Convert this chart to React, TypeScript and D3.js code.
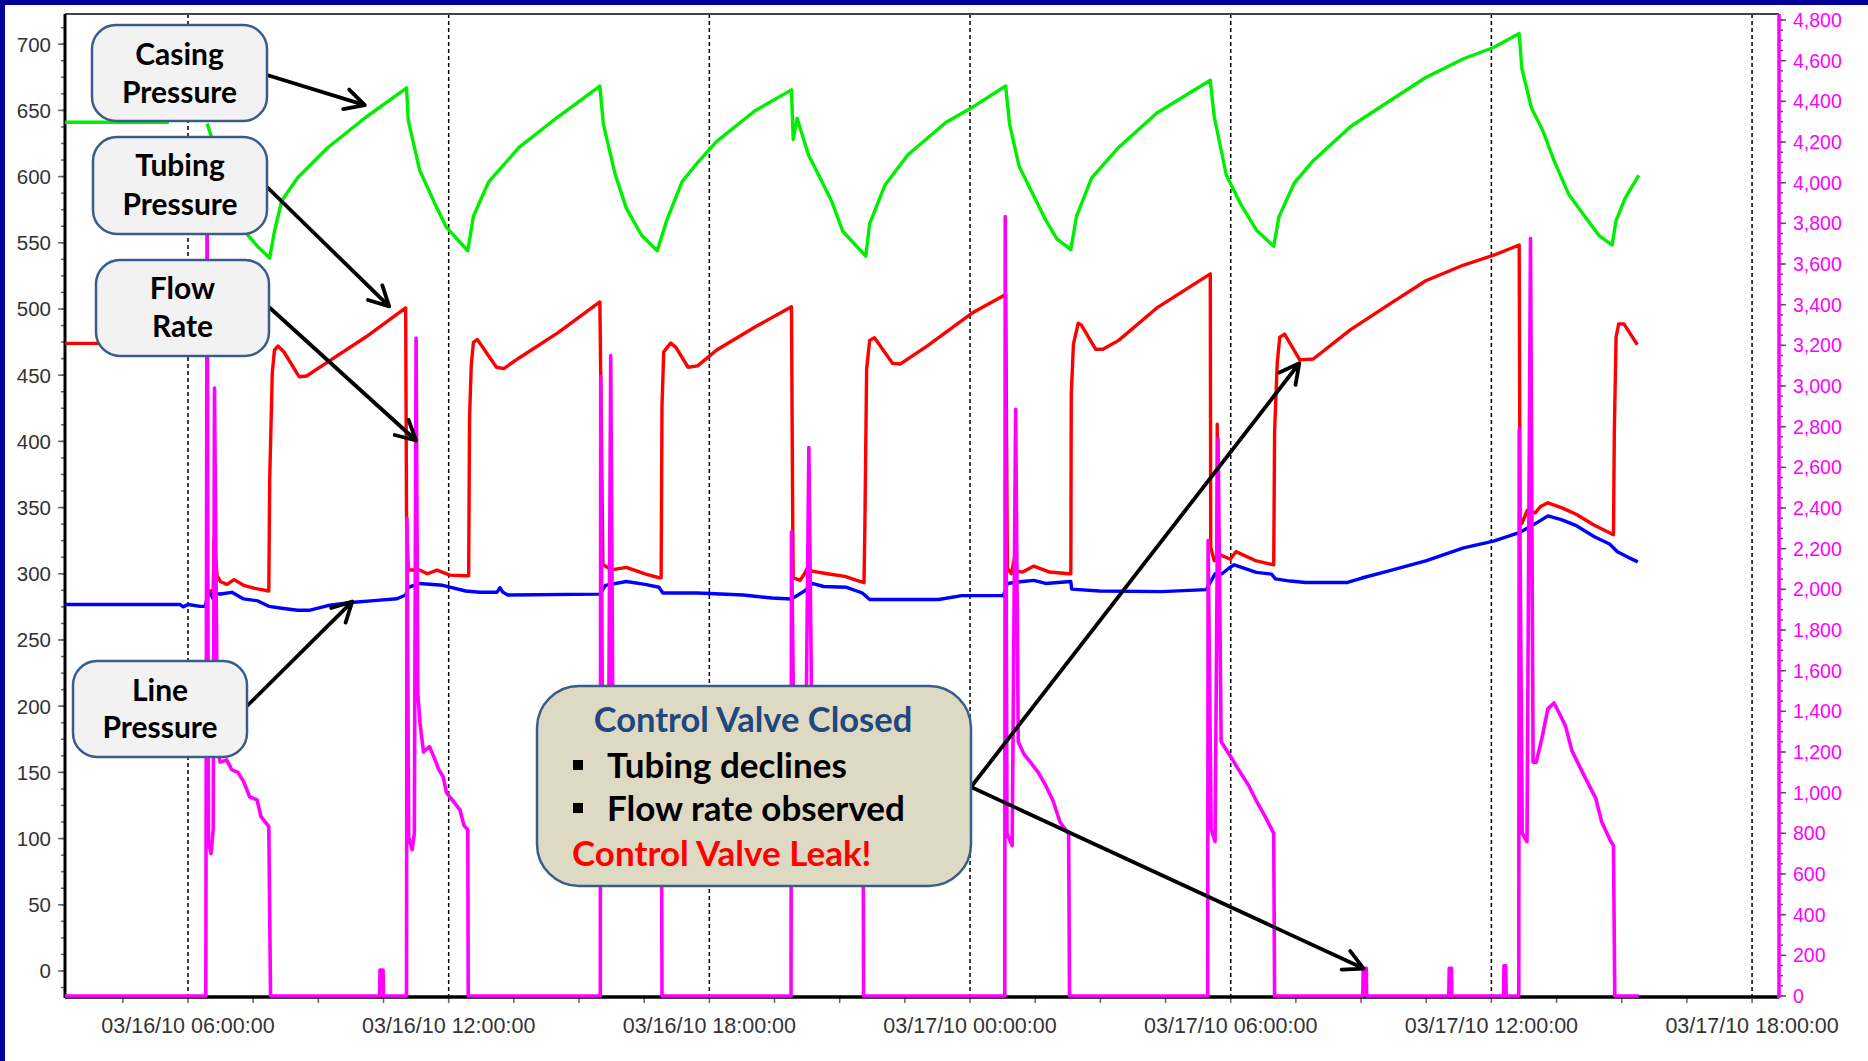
import * as d3 from 'd3';

// time is hours after 03/16/10 00:00:00
const casingPressure: [number, number | null][] = [
  [3.17, 641], [5.56, 641], [5.6, null], [6.44, 640], [6.53, 631], [6.97, 590], [7.37, 556], [7.61, 547],
  [7.88, 538.5], [7.99, 558.7], [8.16, 582], [8.52, 599], [9.22, 622], [10.1, 645], [10.98, 665.6],
  [11.03, 667], [11.07, 642.4], [11.33, 605], [11.69, 579], [11.95, 561.6], [12.44, 544], [12.57, 570],
  [12.92, 596], [13.62, 622], [14.51, 645], [15.48, 668.4], [15.56, 639.6], [15.83, 602], [16.09, 576],
  [16.44, 555.7], [16.8, 544], [17.02, 567], [17.37, 596], [17.73, 610.6], [18.17, 626.6], [19.05, 649.7],
  [19.89, 665.5], [19.93, 628], [20.02, 644], [20.28, 616.5], [20.55, 599], [20.81, 581.8], [21.07, 558.7],
  [21.6, 539.9], [21.69, 564.5], [22.04, 593.4], [22.57, 616.5], [23.45, 641], [24.07, 652.6], [24.82, 668.4],
  [24.91, 639.7], [25.13, 607.8], [25.39, 590.4], [25.74, 567.3], [26.0, 552.9], [26.32, 544.8], [26.45, 570],
  [26.8, 599], [27.42, 622], [28.3, 648], [29.53, 672.8], [29.62, 645.4], [29.9, 601], [30.25, 578],
  [30.59, 559.7], [30.99, 547.4], [31.11, 569.6], [31.46, 595], [31.9, 612], [32.76, 637.8], [33.62, 656.3],
  [34.49, 674.8], [35.36, 689], [36.05, 697.5], [36.64, 708], [36.7, 682], [36.92, 652], [37.18, 635],
  [37.44, 612.2], [37.78, 586.6], [38.22, 566.8], [38.48, 555.4], [38.78, 548.3], [38.87, 566.8],
  [39.08, 583.8], [39.39, 601],
];

const tubingPressure: [number, number | null][] = [
  [3.17, 474], [5.59, 474], [5.6, null], [6.43, 287], [6.58, 287], [6.6, 326], [6.67, 298.5], [6.75, 294],
  [6.9, 292], [7.06, 295.6], [7.28, 291.3], [7.54, 289], [7.86, 287], [7.88, 370.8], [7.94, 451.7],
  [7.99, 469], [8.07, 472], [8.21, 467.5], [8.56, 448.8], [8.73, 449.4], [9.22, 460], [10.1, 479],
  [11.01, 500.8], [11.03, 341.8], [11.07, 302.8], [11.33, 302.8], [11.51, 300], [11.73, 302.8], [12.03, 299],
  [12.39, 298.5], [12.46, 298.5], [12.48, 417], [12.52, 457.5], [12.57, 474.8], [12.66, 477], [13.1, 456],
  [13.27, 455], [13.62, 463], [14.51, 482], [15.48, 505.3], [15.5, 448.8], [15.55, 307], [15.74, 303],
  [16.09, 304.8], [16.52, 300], [16.84, 297], [16.89, 297], [16.91, 427], [16.95, 467.6], [17.11, 474.3],
  [17.23, 471], [17.51, 456], [17.73, 457], [18.17, 469], [19.05, 486.4], [19.89, 501.7], [19.92, 333],
  [19.93, 297], [20.09, 295], [20.19, 300], [20.28, 306], [20.36, 302], [20.72, 300], [21.12, 298],
  [21.34, 295.6], [21.56, 293.3], [21.58, 337.6], [21.62, 454.7], [21.69, 476.3], [21.8, 478.3],
  [22.22, 458.9], [22.39, 458.4], [23.01, 472], [24.07, 497.4], [24.82, 511], [24.86, 304.3], [24.95, 300],
  [25.04, 314.4], [25.08, 302], [25.21, 301.3], [25.47, 305.8], [25.83, 301.3], [26.27, 300], [26.32, 300],
  [26.33, 435.8], [26.38, 473.4], [26.49, 489.3], [26.56, 488], [26.89, 469.6], [27.06, 469.6],
  [27.42, 476.3], [28.3, 500.8], [29.53, 526.5], [29.54, 320], [29.62, 310], [29.68, 310], [29.69, 413],
  [29.71, 315], [29.99, 311], [30.12, 316.7], [30.59, 309.7], [30.99, 306.8], [31.01, 407.6], [31.07, 458.8],
  [31.13, 478.7], [31.24, 481], [31.59, 461.6], [31.9, 462.2], [32.76, 484.4], [33.62, 502.9], [34.49, 521.3],
  [35.36, 533.2], [36.05, 540.6], [36.64, 548.3], [36.66, 339.4], [36.7, 338], [36.83, 348], [37.01, 346],
  [37.13, 350.8], [37.3, 353.6], [37.61, 350], [37.94, 345.2], [38.37, 336.6], [38.81, 329.5], [38.83, 407.6],
  [38.87, 478.7], [38.93, 488.7], [39.05, 488.7], [39.36, 473],
];

const linePressure: [number, number][] = [
  [3.17, 276.8], [5.82, 276.8], [5.89, 275], [6.0, 276.8], [6.28, 275.4], [6.4, 275.4], [6.44, 282],
  [6.49, 287], [6.58, 281], [6.62, 285], [6.75, 284.7], [7.01, 286], [7.28, 281], [7.61, 279.5],
  [7.86, 275.4], [8.16, 274], [8.52, 272.5], [8.81, 272.5], [9.22, 276], [9.75, 278.3], [10.28, 279.7],
  [10.81, 281.1], [11.01, 284], [11.07, 289.8], [11.33, 292.7], [11.86, 291.3], [12.39, 287], [12.72, 286],
  [13.11, 286], [13.18, 289.5], [13.25, 286], [13.36, 284], [15.48, 284.6], [15.61, 291.3], [16.09, 294.2],
  [16.52, 292], [16.84, 289.8], [16.93, 285.5], [17.73, 285.5], [18.78, 284], [19.44, 281.7], [19.89, 281],
  [20.19, 287], [20.37, 292.7], [20.63, 290.4], [21.16, 289.8], [21.52, 285.5], [21.69, 280.6],
  [23.28, 280.6], [23.81, 283.5], [24.77, 283.5], [24.86, 292.7], [25.21, 294.2], [25.47, 295],
  [25.74, 292.7], [26.32, 294.2], [26.34, 288.4], [26.98, 287], [28.4, 286.5], [29.44, 288], [29.64, 300],
  [29.8, 300], [29.95, 304], [30.08, 306.8], [30.59, 301.1], [30.94, 299.7], [31.03, 296.2], [31.37, 294.5],
  [31.72, 293.4], [32.67, 293.4], [33.02, 296.8], [33.62, 302], [34.49, 309.7], [35.36, 319.6],
  [36.05, 324.7], [36.64, 331], [37.09, 339.4], [37.3, 343.7], [37.61, 340.9], [37.94, 336.6], [38.37, 328],
  [38.72, 322.5], [38.9, 316.7], [39.15, 312.4], [39.37, 309],
];

const flowRate: [number, number][] = [
  [3.17, 0], [6.41, 0], [6.44, 4000], [6.47, 760], [6.53, 700], [6.58, 820], [6.61, 2990], [6.66, 1700],
  [6.69, 1200], [6.74, 1150], [6.89, 1161], [7.01, 1112], [7.15, 1100], [7.28, 1054], [7.42, 980],
  [7.59, 964], [7.68, 882], [7.8, 850], [7.86, 833], [7.9, 0], [10.41, 0], [10.42, 128], [10.49, 128],
  [10.5, 0], [11.03, 0], [11.04, 2350], [11.08, 780], [11.16, 720], [11.21, 800], [11.25, 3236],
  [11.29, 1490], [11.34, 1343], [11.42, 1200], [11.56, 1226], [11.69, 1160], [11.78, 1110], [11.87, 1080],
  [11.95, 1000], [12.08, 965], [12.26, 915], [12.35, 840], [12.44, 817], [12.45, 0], [15.49, 0],
  [15.5, 3046], [15.55, 800], [15.67, 760], [15.73, 3150], [15.78, 1300], [15.95, 1220], [16.18, 1150],
  [16.41, 1050], [16.64, 960], [16.82, 850], [16.9, 820], [16.91, 0], [19.88, 0], [19.89, 2283],
  [19.97, 800], [20.2, 760], [20.29, 2697], [20.36, 1300], [20.55, 1220], [20.89, 1120], [21.12, 1000],
  [21.35, 900], [21.54, 830], [21.55, 0], [24.8, 0], [24.81, 3833], [24.85, 800], [24.97, 740],
  [25.05, 2886], [25.11, 1250], [25.24, 1190], [25.39, 1150], [25.57, 1100], [25.75, 1032], [25.91, 960],
  [26.07, 856], [26.27, 797], [26.29, 0], [29.47, 0], [29.48, 2240], [29.55, 820], [29.64, 760],
  [29.71, 2740], [29.78, 1250], [29.99, 1180], [30.22, 1100], [30.4, 1040], [30.59, 960], [30.8, 880],
  [30.99, 800], [31.01, 0], [33.04, 0], [33.05, 136], [33.12, 136], [33.13, 0], [35.02, 0], [35.03, 136],
  [35.08, 136], [35.09, 0], [36.28, 0], [36.29, 149], [36.33, 149], [36.34, 0], [36.63, 0], [36.64, 2787],
  [36.71, 800], [36.82, 760], [36.9, 3725], [36.96, 1150], [37.03, 1149], [37.16, 1265], [37.3, 1412],
  [37.44, 1441], [37.58, 1383], [37.71, 1325], [37.85, 1208], [38.12, 1090], [38.4, 973], [38.54, 856],
  [38.73, 768], [38.81, 738], [38.84, 0], [39.39, 0],
];

const leftTicks = [0, 50, 100, 150, 200, 250, 300, 350, 400, 450, 500, 550, 600, 650, 700];
const rightTicks = [0, 200, 400, 600, 800, 1000, 1200, 1400, 1600, 1800, 2000, 2200, 2400, 2600, 2800,
  3000, 3200, 3400, 3600, 3800, 4000, 4200, 4400, 4600, 4800];
const timeTicks = [6, 12, 18, 24, 30, 36, 42];

const W = 1868;
const H = 1061;
const L = 65, R = 1779, T = 14, B = 996;

const base = Date.UTC(2010, 2, 16);
const toDate = (h: number) => new Date(base + h * 3600000);

const x = d3.scaleUtc().domain([toDate(3.169), toDate(42.62)]).range([L, R]);
const yL = d3.scaleLinear().domain([-18.9, 722.8]).range([B, T]);
const yR = d3.scaleLinear().domain([0, 4829.6]).range([B, T]);
const fmtTime = d3.utcFormat('%m/%d/%y %H:%M:%S');
const fmtRight = d3.format(',');

const leftLine = d3.line<[number, number | null]>()
  .defined(d => d[1] != null)
  .x(d => x(toDate(d[0])))
  .y(d => yL(d[1] as number));
const rightLine = d3.line<[number, number]>()
  .x(d => x(toDate(d[0])))
  .y(d => yR(d[1]));

function arrowPath(x1: number, y1: number, x2: number, y2: number) {
  const a = Math.atan2(y2 - y1, x2 - x1);
  const len = 22, spread = Math.PI / 6.5;
  const b1 = [x2 - len * Math.cos(a - spread), y2 - len * Math.sin(a - spread)];
  const b2 = [x2 - len * Math.cos(a + spread), y2 - len * Math.sin(a + spread)];
  return `M${x1},${y1}L${x2},${y2}M${b1[0]},${b1[1]}L${x2},${y2}L${b2[0]},${b2[1]}`;
}

// callouts: box in page pixels, arrow tip in data space
const labelBoxes = [
  { lines: ['Casing', 'Pressure'], x: 92, y: 25, w: 175, h: 96, base: [65, 103], from: [267, 75], tip: [10.07, 654, 'L'] },
  { lines: ['Tubing', 'Pressure'], x: 93, y: 137, w: 174, h: 97, base: [176, 215], from: [267, 187], tip: [10.63, 502, 'L'] },
  { lines: ['Flow', 'Rate'], x: 96, y: 260, w: 173, h: 96, base: [299, 337], from: [270, 308], tip: [11.25, 2732, 'R'] },
  { lines: ['Line', 'Pressure'], x: 73, y: 661, w: 174, h: 96, base: [701, 738], from: [247, 706], tip: [9.78, 279, 'L'] },
] as const;

const controlTips: [number, number, 'L' | 'R'][] = [[31.58, 459, 'L'], [33.06, 135, 'R']];

const tipXY = (t: readonly [number, number, string]) =>
  [x(toDate(t[0])), t[2] === 'L' ? yL(t[1]) : yR(t[1])];

export default function App() {
  const minorTime = d3.range(4.5, 42.6, 1.5);
  const minorLeft = d3.range(-12.5, 722, 12.5);
  const minorRight = d3.range(0, 4829, 50);
  const boxFont = 'Lato, "Open Sans", sans-serif';
  const axisFont = '"Liberation Sans", Arial, sans-serif';

  return (
    <svg width={W} height={H} style={{ position: 'absolute', left: 0, top: 0, display: 'block', background: '#fff' }}>
      <rect x={0} y={0} width={W} height={H} fill="#fff" />
      <rect x={0} y={0} width={5} height={H} fill="#000099" />
      <rect x={0} y={0} width={W} height={5} fill="#000099" />

      {/* dashed time grid */}
      {timeTicks.map(h => (
        <line key={'g' + h} x1={x(toDate(h))} x2={x(toDate(h))} y1={T} y2={B}
          stroke="#000" strokeWidth={1.5} strokeDasharray="4,3" />
      ))}

      {/* x axis ticks + labels */}
      {minorTime.map(h => (
        <line key={'mt' + h} x1={x(toDate(h))} x2={x(toDate(h))} y1={B} y2={B + 7} stroke="#666" strokeWidth={1.5} />
      ))}
      {timeTicks.map(h => (
        <text key={'tl' + h} x={x(toDate(h))} y={1033} textAnchor="middle" fontFamily={axisFont}
          fontSize={21.5} fill="#333">{fmtTime(toDate(h))}</text>
      ))}

      {/* left axis */}
      {minorLeft.map(v => (
        <line key={'ml' + v} x1={L - 4} x2={L} y1={yL(v)} y2={yL(v)} stroke="#666" strokeWidth={1.5} />
      ))}
      {leftTicks.map(v => (
        <g key={'lt' + v}>
          <line x1={L - 7} x2={L} y1={yL(v)} y2={yL(v)} stroke="#666" strokeWidth={1.5} />
          <text x={51} y={yL(v) + 7.5} textAnchor="end" fontFamily={axisFont} fontSize={20.5} fill="#333">{v}</text>
        </g>
      ))}

      {/* right axis */}
      {minorRight.map(v => (
        <line key={'mr' + v} x1={R} x2={R + 4} y1={yR(v)} y2={yR(v)} stroke="#555" strokeWidth={1.5} />
      ))}
      {rightTicks.map(v => (
        <g key={'rt' + v}>
          <line x1={R} x2={R + 7} y1={yR(v)} y2={yR(v)} stroke="#555" strokeWidth={1.5} />
          <text x={1793} y={yR(v) + 7} fontFamily={axisFont} fontSize={19.5} fill="#ff00ff">{fmtRight(v)}</text>
        </g>
      ))}

      {/* frame */}
      <line x1={L} x2={R} y1={T} y2={T} stroke="#444" strokeWidth={2} />
      <line x1={L} x2={L} y1={T} y2={B + 2} stroke="#000" strokeWidth={3} />
      <line x1={L} x2={R} y1={B + 1} y2={B + 1} stroke="#000" strokeWidth={3.5} />

      {/* series */}
      <path d={leftLine(casingPressure) ?? ''} fill="none" stroke="#00ee00" strokeWidth={3.4} strokeLinejoin="round" />
      <path d={leftLine(linePressure) ?? ''} fill="none" stroke="#0000ff" strokeWidth={3.4} strokeLinejoin="round" />
      <path d={leftLine(tubingPressure) ?? ''} fill="none" stroke="#ff0000" strokeWidth={3.4} strokeLinejoin="round" />
      <path d={rightLine(flowRate) ?? ''} fill="none" stroke="#ff00ff" strokeWidth={3.6} strokeLinejoin="round" />
      <line x1={R} x2={R} y1={T} y2={B + 2} stroke="#ff00ff" strokeWidth={3.5} />

      {/* callouts */}
      {labelBoxes.map((b, i) => {
        const [tx, ty] = tipXY(b.tip);
        return (
          <g key={'cb' + i}>
            <path d={arrowPath(b.from[0], b.from[1], tx, ty)} fill="none" stroke="#000" strokeWidth={3.8}
              strokeLinecap="round" strokeLinejoin="round" />
            <rect x={b.x} y={b.y} width={b.w} height={b.h} rx={24} fill="#f2f2f2" stroke="#385d8a" strokeWidth={2.5} />
            {b.lines.map((s, j) => (
              <text key={j} x={b.x + b.w / 2} y={b.base[j]} textAnchor="middle" fontFamily={boxFont}
                fontWeight="bold" fontSize={30} fill="#000">{s}</text>
            ))}
          </g>
        );
      })}

      {controlTips.map((t, i) => {
        const [tx, ty] = tipXY(t);
        return <path key={'ca' + i} d={arrowPath(971, 787, tx, ty)} fill="none" stroke="#000" strokeWidth={3.8}
          strokeLinecap="round" strokeLinejoin="round" />;
      })}
      <rect x={537} y={686} width={434} height={200} rx={42} fill="#ddd9c3" stroke="#385d8a" strokeWidth={2.5} />
      <text x={753} y={732} textAnchor="middle" fontFamily={boxFont} fontWeight="bold" fontSize={34.5} fill="#1f497d">Control Valve Closed</text>
      <rect x={573} y={760} width={10} height={10} fill="#000" />
      <rect x={573} y={803} width={10} height={10} fill="#000" />
      <text x={607} y={778} fontFamily={boxFont} fontWeight="bold" fontSize={35} fill="#000">Tubing declines</text>
      <text x={607} y={821} fontFamily={boxFont} fontWeight="bold" fontSize={35} fill="#000">Flow rate observed</text>
      <text x={572} y={866} fontFamily={boxFont} fontWeight="bold" fontSize={35} fill="#ff0000">Control Valve Leak!</text>
    </svg>
  );
}
